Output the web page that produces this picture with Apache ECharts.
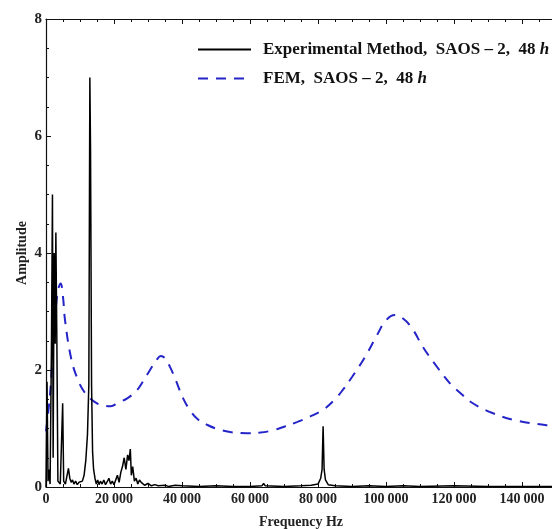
<!DOCTYPE html>
<html>
<head>
<meta charset="utf-8">
<script src="https://cdn.jsdelivr.net/npm/echarts@6/dist/echarts.min.js"></script>
<style>html,body{margin:0;padding:0;background:#fff}#c{width:552px;height:529px}</style>
</head>
<body>
<div id="c"></div>
<script>
// Experimental spectrum: [frequency Hz, amplitude]
const expFreq = [0,300,600,900,1200,1600,1900,2100,2400,2700,2900,3200,3500,4200,4900,5200,5700,6200,6600,7000,7400,7800,8200,8700,9200,9700,10200,10700,11200,11700,12200,12600,12900,13100,13400,13700,14000,14400,14800,15200,15600,16000,16500,17000,17500,18000,18500,19000,19500,20000,20500,21000,21500,22000,22500,23000,23500,24000,24400,24800,25100,25500,26000,26500,27000,27500,28000,28500,29000,30000,31000,32000,33000,35000,36000,38000,40000,45000,50000,55000,60000,63500,64000,64500,70000,75000,78000,80000,80800,81200,81500,81800,82200,83000,85000,90000,95000,100000,105000,110000,120000,130000,140000,150000];
const expAmp = [0,1.8,0.1,0.3,0.05,2.4,5.0,0.5,4.0,2.45,4.35,2.45,0.1,0.05,1.43,0.1,0.05,0.2,0.32,0.15,0.08,0.12,0.05,0.1,0.04,0.08,0.05,0.1,0.2,0.45,0.9,1.75,7.0,5.75,1.75,0.6,0.3,0.15,0.05,0.12,0.04,0.1,0.05,0.12,0.04,0.09,0.15,0.05,0.1,0.04,0.12,0.2,0.08,0.25,0.35,0.5,0.3,0.55,0.45,0.65,0.2,0.35,0.1,0.15,0.05,0.12,0.08,0.1,0.03,0.06,0.02,0.04,0.02,0.03,0.01,0.03,0.02,0.01,0.02,0.01,0.01,0.02,0.06,0.02,0.01,0.02,0.03,0.05,0.15,0.3,1.04,0.3,0.12,0.04,0.02,0.01,0.02,0.01,0.02,0.01,0.02,0.01,0.01,0.01];
// FEM curve
const femFreq = [0,1200,2600,3500,4300,5000,5600,7500,9400,11000,12900,15000,17000,19000,21200,24000,26700,28500,30600,32500,33800,35000,36500,38000,40300,42500,44800,47500,50000,54100,59000,63000,66800,70000,73800,77500,81500,85000,87300,90000,93800,97400,100000,102600,105000,107600,110900,115300,119700,121000,125300,131500,138800,146800,150000];
const femAmp = [0.95,1.6,2.85,3.35,3.48,3.25,2.85,2.17,1.83,1.65,1.52,1.43,1.39,1.38,1.44,1.52,1.65,1.8,2.0,2.17,2.24,2.2,2.05,1.85,1.52,1.3,1.15,1.06,1.0,0.94,0.92,0.93,0.97,1.03,1.11,1.2,1.32,1.5,1.66,1.88,2.22,2.6,2.85,2.94,2.88,2.72,2.39,2.03,1.71,1.65,1.44,1.26,1.13,1.06,1.04];
const yTicks = [0,2,4,6,8];
const seriesNames = ['Experimental Method,  SAOS \u2013 2,  48 ', 'FEM,  SAOS \u2013 2,  48 '];

const serif = '"Liberation Serif","Times New Roman",serif';
const fmt = v => String(v).replace(/\B(?=(\d{3})+(?!\d))/g, '\u2009');
const chart = echarts.init(document.getElementById('c'), null, {renderer:'canvas'});
chart.setOption({
  animation:false,
  backgroundColor:'#fff',
  grid:{left:46, top:19, width:510, height:468, containLabel:false, outerBoundsMode:'none'},
  legend:{
    left:197, top:41, padding:0, orient:'vertical', itemWidth:53, itemHeight:14, itemGap:12,
    data:seriesNames,
    itemStyle:{opacity:0, color:'transparent', borderWidth:0},
    formatter: n => '{a|' + n + '}{i|h}',
    textStyle:{padding:[0,0,0,7], rich:{
      a:{fontFamily:serif, fontWeight:'bold', fontSize:17, color:'#111'},
      i:{fontFamily:serif, fontWeight:'bold', fontStyle:'italic', fontSize:17, color:'#111'}
    }}
  },
  xAxis:[{
    type:'value', min:0, max:150000, interval:20000,
    name:'Frequency Hz', nameLocation:'middle', nameGap:28,
    nameTextStyle:{fontFamily:serif, fontWeight:'bold', fontSize:14, color:'#222'},
    axisLine:{lineStyle:{color:'#111', width:1.2}},
    axisTick:{inside:true, length:5, lineStyle:{color:'#111'}},
    minorTick:{show:true, splitNumber:4, length:3, lineStyle:{color:'#111'}},
    axisLabel:{formatter:fmt, fontFamily:serif, fontWeight:'bold', fontSize:14, color:'#222', margin:5, showMaxLabel:false},
    splitLine:{show:false}
  },{
    type:'value', position:'top', min:0, max:150000, interval:20000,
    axisLine:{lineStyle:{color:'#111', width:1.2}},
    axisTick:{inside:true, length:5, lineStyle:{color:'#111'}},
    minorTick:{show:true, splitNumber:4, length:3, lineStyle:{color:'#111'}},
    axisLabel:{show:false}, splitLine:{show:false}
  }],
  yAxis:{
    type:'value', min:0, max:8, interval:2,
    name:'Amplitude', nameLocation:'middle', nameGap:17, nameRotate:90, nameMoveOverlap:false,
    nameTextStyle:{fontFamily:serif, fontWeight:'bold', fontSize:14, color:'#222'},
    axisLine:{show:true, lineStyle:{color:'#111', width:1.2}},
    axisTick:{show:true, inside:true, length:5, lineStyle:{color:'#111'}},
    minorTick:{show:true, splitNumber:4, length:3, lineStyle:{color:'#111'}},
    axisLabel:{fontFamily:serif, fontWeight:'bold', fontSize:15, color:'#222', margin:4,
      formatter: v => yTicks.includes(v) ? String(v) : ''},
    splitLine:{show:false}
  },
  series:[{
    name:seriesNames[0], type:'line', symbol:'none',
    data: expFreq.map((f,i)=>[f, expAmp[i]]),
    lineStyle:{color:'#000', width:1.5}, itemStyle:{color:'#000'}, z:3
  },{
    name:seriesNames[1], type:'line', symbol:'none', smooth:0.4,
    data: femFreq.map((f,i)=>[f, femAmp[i]]),
    lineStyle:{color:'#2424c8', width:2, type:[10,8]}, itemStyle:{color:'#2424c8'}, z:2
  }]
});
</script>
</body>
</html>
